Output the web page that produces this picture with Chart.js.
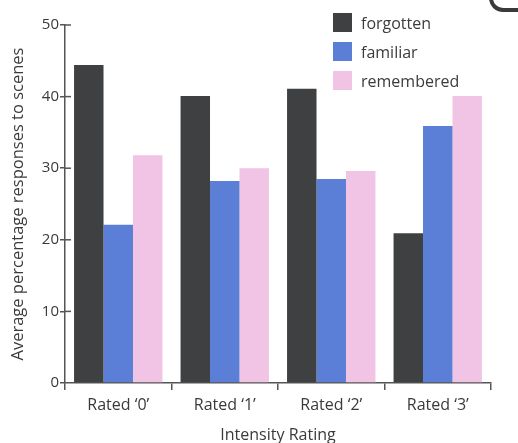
<!DOCTYPE html>
<html>
<head>
<meta charset="utf-8">
<script src="https://cdn.jsdelivr.net/npm/chart.js@4/dist/chart.umd.min.js"></script>
<style>
  html, body { margin: 0; padding: 0; background: #fff; }
  #wrap { position: relative; width: 518px; height: 443px; overflow: hidden; }
  #legend { position: absolute; left: 333px; top: 8px; font: 16px "Open Sans", sans-serif; color: #3c3c3c; }
  #legend .row { display: flex; align-items: center; height: 29px; }
  #legend .sw { width: 19px; height: 19px; margin-right: 9px; }
  #corner { position: absolute; left: 489px; top: -34px; width: 60px; height: 38px; border: 4px solid #3a3a3a; border-radius: 14px; }
</style>
</head>
<body>
<div id="wrap">
  <canvas id="c" width="518" height="443"></canvas>
  <div id="legend"></div>
  <div id="corner"></div>
</div>
<script>
// ── Data ──────────────────────────────────────────────────────────────────────
const CATEGORIES = ['Rated \u20180\u2019', 'Rated \u20181\u2019', 'Rated \u20182\u2019', 'Rated \u20183\u2019'];
const SERIES = ['forgotten', 'familiar', 'remembered'];
const FORGOTTEN = [44.4, 40.1, 41.1, 20.9];
const FAMILIAR = [22.1, 28.2, 28.5, 35.9];
const REMEMBERED = [31.8, 30.0, 29.6, 40.1];
const Y_TICKS = [0, 10, 20, 30, 40, 50];
const COLORS = ['#3f4041', '#5b7fd6', '#f1c3e5'];

const FONT = '"Open Sans", sans-serif';
const INK = '#3a3a3a';
const AXIS = '#555';

// inward half of the y ticks (the reference ticks cross the axis line)
const innerTicks = {
  id: 'innerTicks',
  afterDraw(c) {
    const y = c.scales.y, ctx = c.ctx, x0 = c.chartArea.left;
    ctx.save();
    ctx.strokeStyle = AXIS; ctx.lineWidth = 1.5;
    Y_TICKS.forEach((v) => {
      if (v === 0) return;
      const py = y.getPixelForValue(v);
      ctx.beginPath(); ctx.moveTo(x0, py); ctx.lineTo(x0 + 6, py); ctx.stroke();
    });
    ctx.restore();
  },
};

// ── Chart ─────────────────────────────────────────────────────────────────────
const values = [FORGOTTEN, FAMILIAR, REMEMBERED];
const chart = new Chart(document.getElementById('c'), {
  type: 'bar',
  data: {
    labels: CATEGORIES,
    datasets: SERIES.map((s, i) => ({
      label: s, data: values[i], backgroundColor: COLORS[i],
      barPercentage: 1, categoryPercentage: 0.83, borderWidth: 0,
    })),
  },
  plugins: [innerTicks],
  options: {
    responsive: false,
    animation: false,
    layout: { padding: { top: 25, right: 27, left: 0, bottom: 0 } },
    plugins: { legend: { display: false }, tooltip: { enabled: false } },
    scales: {
      x: {
        grid: { offset: true, drawOnChartArea: false, color: AXIS, lineWidth: 1.5, tickLength: 7 },
        border: { color: AXIS, width: 1.5 },
        ticks: { color: INK, font: { family: FONT, size: 16 }, padding: 6, maxRotation: 0 },
        title: { display: true, text: 'Intensity Rating', color: INK, font: { family: FONT, size: 16 }, padding: { top: 0, bottom: -2 } },
        afterFit: (s) => { s.height = 60; },
      },
      y: {
        min: Y_TICKS[0], max: Y_TICKS[Y_TICKS.length - 1],
        afterBuildTicks: (s) => { s.ticks = Y_TICKS.map((v) => ({ value: v })); },
        grid: { drawOnChartArea: false, color: AXIS, lineWidth: 1.5, tickLength: 5 },
        border: { color: AXIS, width: 1.5 },
        ticks: { color: INK, font: { family: FONT, size: 15 }, padding: 1 },
        title: { display: true, text: 'Average percentage responses to scenes', color: INK, font: { family: FONT, size: 16.5 }, padding: { top: 8, bottom: 2 } },
        afterFit: (s) => { s.width = 65; },
      },
    },
  },
});

// ── Legend ────────────────────────────────────────────────────────────────────
document.getElementById('legend').innerHTML = chart.data.datasets.map((d) => `
  <div class="row"><span class="sw" style="background:${d.backgroundColor}"></span><span>${d.label}</span></div>`).join('');
</script>
</body>
</html>
